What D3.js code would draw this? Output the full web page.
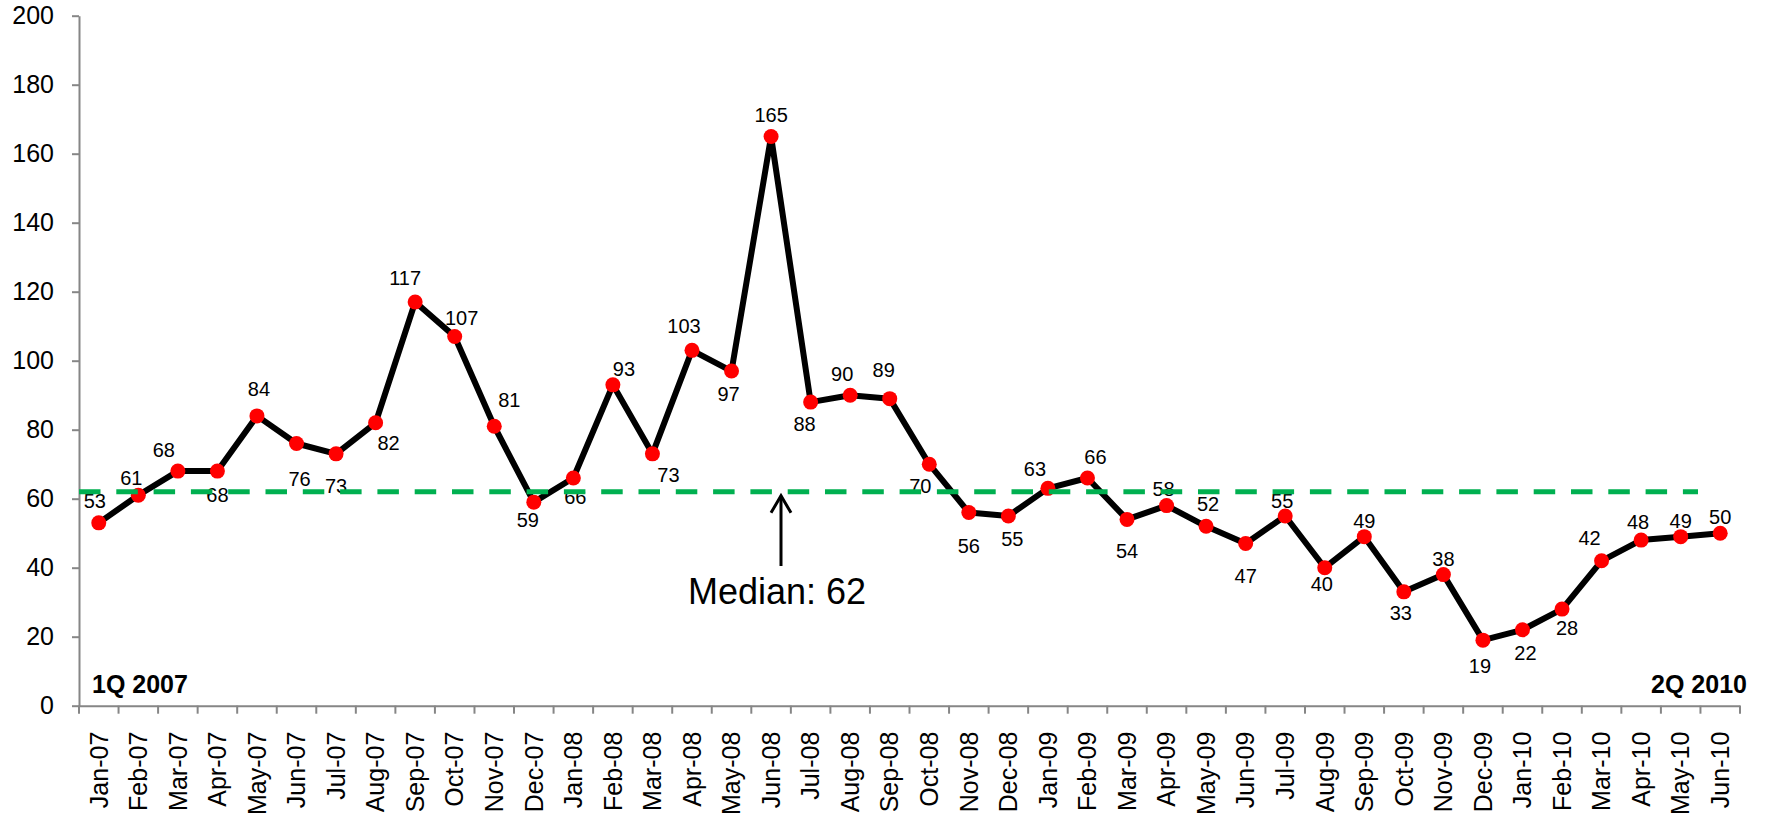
<!DOCTYPE html>
<html>
<head>
<meta charset="utf-8">
<script src="https://cdn.jsdelivr.net/npm/d3@7"></script>
<style>
  body { margin: 0; background: #fff; }
  svg { display: block; font-family: "Liberation Sans", Arial, sans-serif; }
</style>
</head>
<body>
<svg id="chart" width="1767" height="819"></svg>
<script>
const months = [
  'Jan-07', 'Feb-07', 'Mar-07', 'Apr-07', 'May-07', 'Jun-07', 'Jul-07', 'Aug-07', 'Sep-07', 'Oct-07', 'Nov-07', 'Dec-07',
  'Jan-08', 'Feb-08', 'Mar-08', 'Apr-08', 'May-08', 'Jun-08', 'Jul-08', 'Aug-08', 'Sep-08', 'Oct-08', 'Nov-08', 'Dec-08',
  'Jan-09', 'Feb-09', 'Mar-09', 'Apr-09', 'May-09', 'Jun-09', 'Jul-09', 'Aug-09', 'Sep-09', 'Oct-09', 'Nov-09', 'Dec-09',
  'Jan-10', 'Feb-10', 'Mar-10', 'Apr-10', 'May-10', 'Jun-10'
];
const counts = [
  53, 61, 68, 68, 84, 76, 73, 82, 117, 107, 81, 59,
  66, 93, 73, 103, 97, 165, 88, 90, 89, 70, 56, 55,
  63, 66, 54, 58, 52, 47, 55, 40, 49, 33, 38, 19,
  22, 28, 42, 48, 49, 50
];
const yTicks = [0, 20, 40, 60, 80, 100, 120, 140, 160, 180, 200];
const median = 62;
const medianLabel = 'Median: 62';
const startLabel = '1Q 2007';
const endLabel = '2Q 2010';

// where each value label sits relative to its marker (dx, dy of label centre)
const labelOffsets = [
  [-4, -22], [-7, -17], [-14, -21], [0, 24], [2, -27], [3, 35], [0, 32], [13, 20], [-10, -24], [7, -19], [15, -26], [-6, 18],
  [2, 19], [11, -16], [16, 21], [-8, -24], [-3, 23], [0, -21], [-6, 22], [-8, -21], [-6, -29], [-9, 22], [0, 33], [4, 23],
  [-13, -19], [8, -21], [0, 32], [-3, -17], [2, -22], [0, 32], [-3, -15], [-3, 16], [0, -16], [-3, 21], [0, -16], [-3, 26],
  [3, 23], [5, 19], [-12, -23], [-3, -18], [0, -16], [0, -16]
];

const svg = d3.select('#chart');
const margin = { left: 79, right: 1740, top: 15.7, bottom: 705.7 };
const axisColor = '#868686';

const x = d3.scaleBand().domain(months).range([margin.left, margin.right]).padding(0);
const y = d3.scaleLinear().domain([0, 200]).range([margin.bottom, margin.top]);
const cx = m => x(m) + x.bandwidth() / 2;

// y axis
const yAxis = svg.append('g')
  .attr('transform', `translate(${margin.left},0)`)
  .call(d3.axisLeft(y).tickValues(yTicks).tickSize(7).tickSizeOuter(0).tickPadding(18));
yAxis.select('.domain').attr('stroke', axisColor).attr('stroke-width', 2);
yAxis.selectAll('.tick line').attr('stroke', axisColor).attr('stroke-width', 2);
yAxis.selectAll('text').style('font-size', '25px').attr('fill', '#000');

// x axis (labels at band centres, ticks on band edges)
const xAxis = svg.append('g')
  .attr('transform', `translate(0,${margin.bottom})`)
  .call(d3.axisBottom(x).tickSize(0).tickSizeOuter(0));
xAxis.select('.domain').attr('stroke', axisColor).attr('stroke-width', 2);
xAxis.selectAll('text')
  .style('font-size', '25px')
  .attr('fill', '#000')
  .attr('transform', 'rotate(-90)')
  .attr('text-anchor', 'end')
  .attr('x', -26)
  .attr('y', 0)
  .attr('dy', '0.35em');
xAxis.selectAll('.edge')
  .data(months.map(m => x(m)).concat([margin.right]))
  .enter().append('line')
  .attr('class', 'edge')
  .attr('x1', d => d).attr('x2', d => d)
  .attr('y1', 0).attr('y2', 8)
  .attr('stroke', axisColor)
  .attr('stroke-width', 2);

// series line
const line = d3.line()
  .x((d, i) => cx(months[i]))
  .y(d => y(d));

svg.append('path')
  .datum(counts)
  .attr('fill', 'none')
  .attr('stroke', '#000')
  .attr('stroke-width', 6)
  .attr('stroke-linejoin', 'round')
  .attr('d', line);

svg.selectAll('.pt')
  .data(counts)
  .enter().append('circle')
  .attr('class', 'pt')
  .attr('cx', (d, i) => cx(months[i]))
  .attr('cy', d => y(d))
  .attr('r', 7.5)
  .attr('fill', '#ff0000');

svg.selectAll('.val')
  .data(counts)
  .enter().append('text')
  .attr('class', 'val')
  .attr('x', (d, i) => cx(months[i]) + labelOffsets[i][0])
  .attr('y', (d, i) => y(d) + labelOffsets[i][1] + 7)
  .attr('text-anchor', 'middle')
  .style('font-size', '20px')
  .attr('fill', '#000')
  .text(d => d);

// median reference line
svg.append('line')
  .attr('x1', margin.left)
  .attr('x2', 1698)
  .attr('y1', y(median))
  .attr('y2', y(median))
  .attr('stroke', '#00b050')
  .attr('stroke-width', 5)
  .attr('stroke-dasharray', '21.5,15.8');

// arrow + median label
const ax = 781;
const tipY = y(median) + 4;
svg.append('line')
  .attr('x1', ax).attr('x2', ax)
  .attr('y1', 566).attr('y2', tipY)
  .attr('stroke', '#000')
  .attr('stroke-width', 3);
svg.append('path')
  .attr('d', `M${ax - 10},${tipY + 17} L${ax},${tipY} L${ax + 10},${tipY + 17}`)
  .attr('fill', 'none')
  .attr('stroke', '#000')
  .attr('stroke-width', 3);

svg.append('text')
  .attr('x', 777)
  .attr('y', 604)
  .attr('text-anchor', 'middle')
  .style('font-size', '36px')
  .attr('fill', '#000')
  .text(medianLabel);

// period labels
svg.append('text')
  .attr('x', 92)
  .attr('y', 693)
  .style('font-size', '25px')
  .style('font-weight', 'bold')
  .attr('fill', '#000')
  .text(startLabel);

svg.append('text')
  .attr('x', 1747)
  .attr('y', 693)
  .attr('text-anchor', 'end')
  .style('font-size', '25px')
  .style('font-weight', 'bold')
  .attr('fill', '#000')
  .text(endLabel);
</script>
</body>
</html>
